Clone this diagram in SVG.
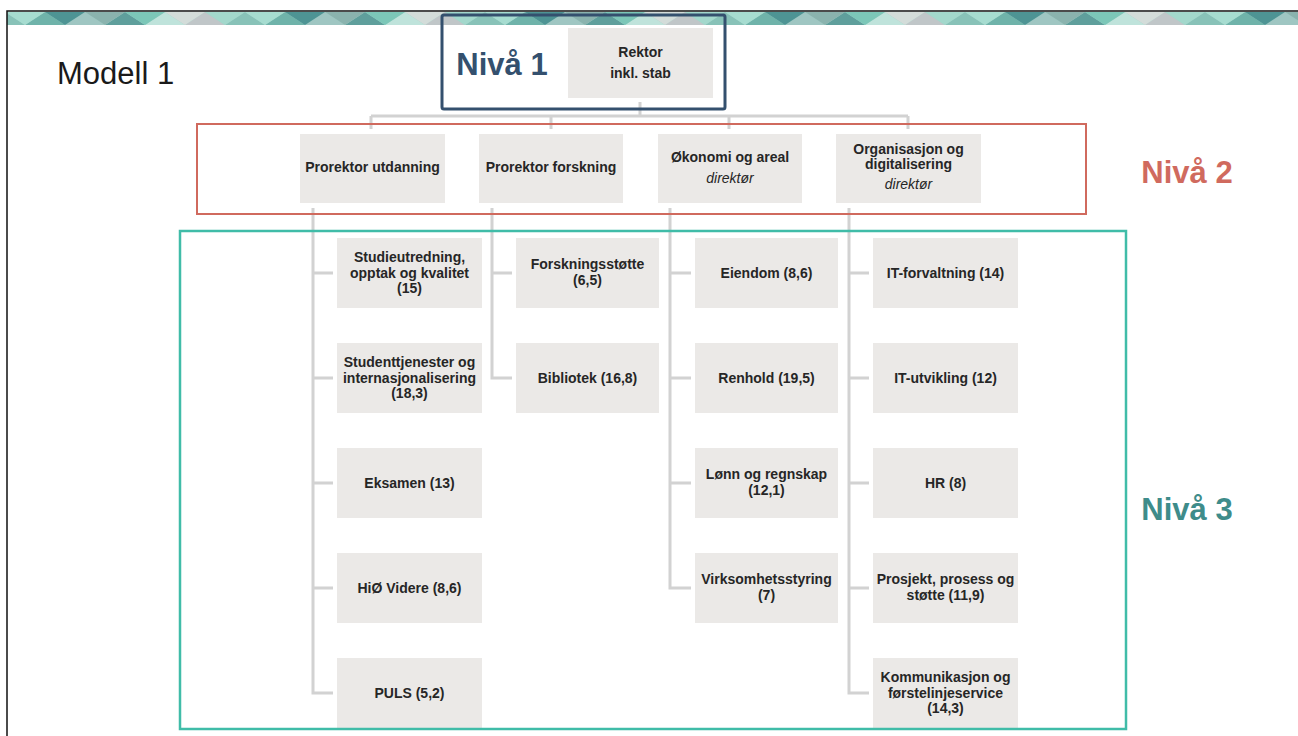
<svg xmlns="http://www.w3.org/2000/svg" width="1298" height="736" viewBox="0 0 1298 736">
<style>
.box{fill:#ebe9e7}
.t{font-family:"Liberation Sans",Arial,sans-serif;font-size:14px;font-weight:bold;fill:#262626;text-anchor:middle}
.it{font-style:italic;font-weight:normal}
.con{fill:none;stroke:#d2d2d2;stroke-width:3}
.lvl{font-family:"Liberation Sans",Arial,sans-serif;font-size:31px;font-weight:bold;text-anchor:middle}
</style>
<defs>
<pattern id="ban" patternUnits="userSpaceOnUse" x="5" y="12" width="240" height="13">
<rect width="240" height="13" fill="#9fd3c9"/>
<polygon points="-20,13 0,0 20,13" fill="#88c2b8"/>
<polygon points="20,13 40,0 60,13" fill="#6fb3aa"/>
<polygon points="60,13 80,0 100,13" fill="#9fc6c2"/>
<polygon points="100,13 120,0 140,13" fill="#5f9f9c"/>
<polygon points="140,13 160,0 180,13" fill="#bfe3db"/>
<polygon points="180,13 200,0 220,13" fill="#c0c6c8"/>
<polygon points="220,13 240,0 260,13" fill="#88c2b8"/>
<polygon points="0,0 40,0 20,13" fill="#a6dcd0"/>
<polygon points="40,0 80,0 60,13" fill="#4e9494"/>
<polygon points="80,0 120,0 100,13" fill="#8ab3ae"/>
<polygon points="120,0 160,0 140,13" fill="#7cc7b8"/>
<polygon points="160,0 200,0 180,13" fill="#d3dcd9"/>
<polygon points="200,0 240,0 220,13" fill="#a3d8cc"/>
</pattern>
</defs>
<rect width="1298" height="736" fill="#ffffff"/>
<rect x="7" y="12" width="1291" height="13" fill="url(#ban)"/>
<path d="M7,736 V11 H1298" fill="none" stroke="#111" stroke-width="1.5"/>

<text x="57" y="84" font-family="'Liberation Sans',Arial,sans-serif" font-size="31" fill="#1a1a1a">Modell 1</text>

<g id="connectors">
<path class="con" d="M640,102 V116 M371,116 H908 M371,116 V129 M551,116 V129 M729,116 V129 M908,116 V129"/>
<path class="con" d="M313,208 V693 H333 M313,273 H333 M313,378 H333 M313,483 H333 M313,588 H333"/>
<path class="con" d="M492,208 V378 H512 M492,273 H512"/>
<path class="con" d="M670,208 V588 H691 M670,273 H691 M670,378 H691 M670,483 H691"/>
<path class="con" d="M849,208 V693 H869 M849,273 H869 M849,378 H869 M849,483 H869 M849,588 H869"/>
</g>

<g id="rektor"><rect class="box" x="568" y="28" width="145" height="70"/><text class="t" x="640.5" y="57">Rektor</text><text class="t" x="640.5" y="78">inkl. stab</text></g>

<g id="prorektor-utdanning"><rect class="box" x="300" y="134" width="145" height="69"/><text class="t" x="372.5" y="172">Prorektor utdanning</text></g>
<g id="prorektor-forskning"><rect class="box" x="479" y="134" width="144" height="69"/><text class="t" x="551" y="172">Prorektor forskning</text></g>
<g id="okonomi"><rect class="box" x="658" y="134" width="144" height="69"/><text class="t" x="730" y="162">Økonomi og areal</text><text class="t it" x="730" y="183">direktør</text></g>
<g id="organisasjon"><rect class="box" x="836" y="134" width="145" height="69"/><text class="t" x="908.5" y="154">Organisasjon og</text><text class="t" x="908.5" y="169">digitalisering</text><text class="t it" x="908.5" y="189">direktør</text></g>

<g id="studieutredning"><rect class="box" x="337" y="238" width="145" height="70"/><text class="t" x="409.5" y="262">Studieutredning,</text><text class="t" x="409.5" y="277.5">opptak og kvalitet</text><text class="t" x="409.5" y="293">(15)</text></g>
<g id="studenttjenester"><rect class="box" x="337" y="343" width="145" height="70"/><text class="t" x="409.5" y="367">Studenttjenester og</text><text class="t" x="409.5" y="382.5">internasjonalisering</text><text class="t" x="409.5" y="398">(18,3)</text></g>
<g id="eksamen"><rect class="box" x="337" y="448" width="145" height="70"/><text class="t" x="409.5" y="488">Eksamen (13)</text></g>
<g id="hio-videre"><rect class="box" x="337" y="553" width="145" height="70"/><text class="t" x="409.5" y="593">HiØ Videre (8,6)</text></g>
<g id="puls"><rect class="box" x="337" y="658" width="145" height="71"/><text class="t" x="409.5" y="698">PULS (5,2)</text></g>

<g id="forskningsstotte"><rect class="box" x="516" y="238" width="143" height="70"/><text class="t" x="587.5" y="269">Forskningsstøtte</text><text class="t" x="587.5" y="285">(6,5)</text></g>
<g id="bibliotek"><rect class="box" x="516" y="343" width="143" height="70"/><text class="t" x="587.5" y="383">Bibliotek (16,8)</text></g>

<g id="eiendom"><rect class="box" x="695" y="238" width="143" height="70"/><text class="t" x="766.5" y="278">Eiendom (8,6)</text></g>
<g id="renhold"><rect class="box" x="695" y="343" width="143" height="70"/><text class="t" x="766.5" y="383">Renhold (19,5)</text></g>
<g id="lonn"><rect class="box" x="695" y="448" width="143" height="70"/><text class="t" x="766.5" y="479">Lønn og regnskap</text><text class="t" x="766.5" y="495">(12,1)</text></g>
<g id="virksomhetsstyring"><rect class="box" x="695" y="553" width="143" height="70"/><text class="t" x="766.5" y="584">Virksomhetsstyring</text><text class="t" x="766.5" y="600">(7)</text></g>

<g id="it-forvaltning"><rect class="box" x="873" y="238" width="145" height="70"/><text class="t" x="945.5" y="278">IT-forvaltning (14)</text></g>
<g id="it-utvikling"><rect class="box" x="873" y="343" width="145" height="70"/><text class="t" x="945.5" y="383">IT-utvikling (12)</text></g>
<g id="hr"><rect class="box" x="873" y="448" width="145" height="70"/><text class="t" x="945.5" y="488">HR (8)</text></g>
<g id="prosjekt"><rect class="box" x="873" y="553" width="145" height="70"/><text class="t" x="945.5" y="584">Prosjekt, prosess og</text><text class="t" x="945.5" y="600">støtte (11,9)</text></g>
<g id="kommunikasjon"><rect class="box" x="873" y="658" width="145" height="71"/><text class="t" x="945.5" y="682">Kommunikasjon og</text><text class="t" x="945.5" y="697.5">førstelinjeservice</text><text class="t" x="945.5" y="713">(14,3)</text></g>

<g id="frames">
<rect x="442" y="15" width="283" height="94" rx="2" fill="none" stroke="#34506e" stroke-width="3"/>
<rect x="197" y="124" width="889" height="90" fill="none" stroke="#d06a5e" stroke-width="2"/>
<rect x="180" y="231" width="946" height="498" fill="none" stroke="#40bca8" stroke-width="2.5"/>
</g>
<text class="lvl" x="502" y="75" fill="#34506e">Nivå 1</text>
<text class="lvl" x="1187" y="183" fill="#d06a5e">Nivå 2</text>
<text class="lvl" x="1187" y="520" fill="#3e8c8a">Nivå 3</text>
</svg>
